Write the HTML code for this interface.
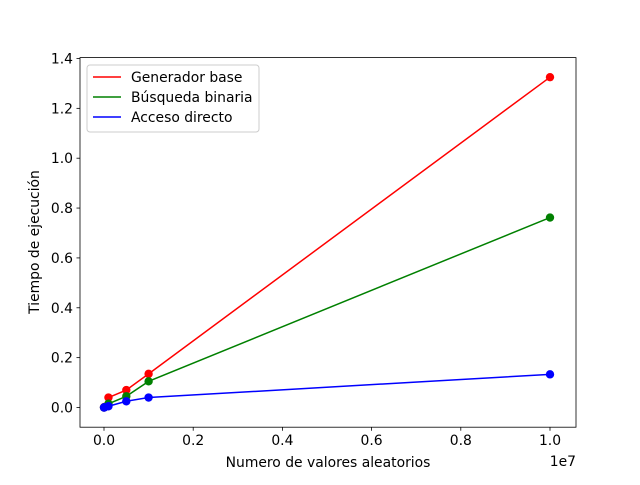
<!DOCTYPE html>
<html><head><meta charset="utf-8"><style>
body{margin:0;background:#fff}
svg{font-family:"DejaVu Sans","Liberation Sans",sans-serif}
</style></head><body>
<svg id="c" width="640" height="480" xmlns="http://www.w3.org/2000/svg"></svg>
<script>
const xValues=[0,10000,100000,500000,1000000,10000000];
const redValues=[0.0,0.002,0.04,0.07,0.135,1.325];
const greenValues=[0.0,0.001,0.015,0.045,0.105,0.762];
const blueValues=[0.0,0.0005,0.005,0.025,0.04,0.133];
const xTicks=[0,0.2,0.4,0.6,0.8,1.0];
const yTicks=[0.0,0.2,0.4,0.6,0.8,1.0,1.2,1.4];
const seriesNames=["Generador base","Búsqueda binaria","Acceso directo"];
const L=80,R=576,T=57.6,B=427.2;
const FS=13.9;
const X=v=>104+v/1e7*446;
const Y=v=>407.5-v*249.3;
const svg=document.getElementById('c');
const NS="http://www.w3.org/2000/svg";
function mk(tag,attrs,parent){const e=document.createElementNS(NS,tag);for(const k in attrs)e.setAttribute(k,attrs[k]);(parent||svg).appendChild(e);return e;}
const frame=mk('rect',{x:L,y:T,width:R-L,height:B-T,fill:'none',stroke:'#000','stroke-width':0.8});


xTicks.forEach(t=>{const x=X(t*1e7);
const l=mk('line',{x1:x,x2:x,y1:B,y2:B+3.5,stroke:'#000','stroke-width':0.8});


const tx=mk('text',{x:x,y:B+18,'font-size':FS,'text-anchor':'middle'});tx.textContent=t.toFixed(1);

});
yTicks.forEach(t=>{const y=Y(t);
const l=mk('line',{x1:L-3.5,x2:L,y1:y,y2:y,stroke:'#000','stroke-width':0.8});


const tx=mk('text',{x:L-7,y:y+5,'font-size':FS,'text-anchor':'end'});tx.textContent=t.toFixed(1);

});
const xt=mk('text',{x:328,y:467,'font-size':FS,'text-anchor':'middle'});xt.textContent='Numero de valores aleatorios';


const off=mk('text',{x:576,y:466,'font-size':FS,'text-anchor':'end'});off.textContent='1e7';


const yt=mk('text',{x:0,y:0,'font-size':FS,'text-anchor':'middle',transform:'translate(39,242) rotate(-90)'});yt.textContent='Tiempo de ejecución';


const all=[redValues,greenValues,blueValues],cols=['red','green','blue'],keys=['red','green','blue'];
all.forEach((vals,i)=>{
const p=mk('polyline',{points:xValues.map((x,j)=>X(x)+','+Y(vals[j])).join(' '),fill:'none',stroke:cols[i],'stroke-width':1.5});


vals.forEach((v,j)=>{const c=mk('circle',{cx:X(xValues[j]),cy:Y(v),r:4.2,fill:cols[i]});

});
});
const lg=mk('g',{});


mk('rect',{x:87,y:65,width:172,height:67,rx:3,fill:'#fff',stroke:'#ccc','stroke-width':1},lg);
seriesNames.forEach((n,i)=>{const y=77+i*20;
mk('line',{x1:93,x2:121,y1:y,y2:y,stroke:cols[i],'stroke-width':1.5},lg);
const t=mk('text',{x:131,y:y+5,'font-size':FS},lg);t.textContent=n;

});
</script>
</body></html>
